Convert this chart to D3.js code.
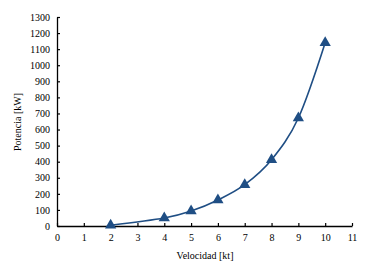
<!DOCTYPE html>
<html><head><meta charset="utf-8">
<script src="https://cdn.jsdelivr.net/npm/d3@7"></script>
<style>body{margin:0;background:#fff}svg{display:block}text{font-family:"Liberation Serif","Times New Roman",serif;fill:#000}</style>
</head><body>
<script>
const velocidad = [2, 4, 5, 6, 7, 8, 9, 10];
const potencia = [5, 50, 93, 162, 257, 412, 672, 1140];
const xTicks = [0,1,2,3,4,5,6,7,8,9,10,11];
const yTicks = [0,100,200,300,400,500,600,700,800,900,1000,1100,1200,1300];

const W = 371, H = 268;
const svg = d3.select("body").append("svg").attr("width", W).attr("height", H);
const x = d3.scaleLinear().domain([0, 11]).range([57, 352]);
const y = d3.scaleLinear().domain([0, 1300]).range([226, 17]);
const color = "#1f4e84";

const gx = svg.append("g").attr("transform", `translate(0,${y(0)})`)
  .call(d3.axisBottom(x).tickValues(xTicks).tickFormat(d3.format("d")).tickSizeInner(-3).tickSizeOuter(0).tickPadding(8));
const gy = svg.append("g").attr("transform", `translate(${x(0)},0)`)
  .call(d3.axisLeft(y).tickValues(yTicks).tickFormat(d3.format("d")).tickSizeInner(-3).tickSizeOuter(0).tickPadding(7));
[gx, gy].forEach(g => {
  g.attr("font-family", null);
  g.select(".domain").attr("stroke", "#000").attr("stroke-width", 1.3);
  g.selectAll(".tick line").attr("stroke", "#000").attr("stroke-width", 1.2);
  g.selectAll(".tick text").attr("font-size", 10);
});

const data = velocidad.map((v, i) => [v, potencia[i]]);
svg.append("path").datum(data)
  .attr("fill", "none").attr("stroke", color).attr("stroke-width", 1.6)
  .attr("d", d3.line().x(d => x(d[0])).y(d => y(d[1])).curve(d3.curveCatmullRom.alpha(0)));

svg.selectAll(".m").data(data).join("path")
  .attr("transform", d => `translate(${x(d[0])},${y(d[1])})`)
  .attr("d", d3.symbol(d3.symbolTriangle, 55))
  .attr("fill", color);

svg.append("text").attr("x", 205).attr("y", 259).attr("text-anchor", "middle")
  .attr("font-size", 10).text("Velocidad [kt]");
svg.append("text").attr("transform", "translate(21,122) rotate(-90)").attr("text-anchor", "middle")
  .attr("font-size", 10).text("Potencia [kW]");
</script>
</body></html>
